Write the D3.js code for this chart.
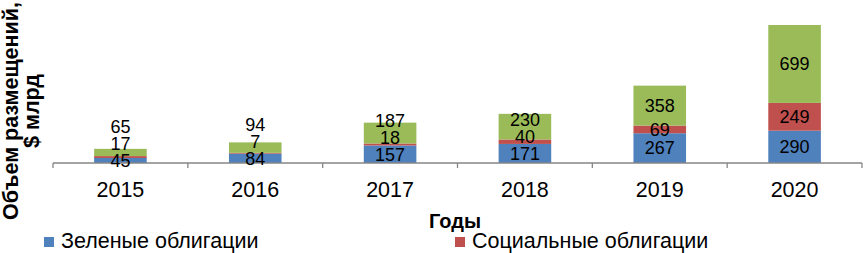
<!DOCTYPE html>
<html>
<head>
<meta charset="utf-8">
<script src="https://cdnjs.cloudflare.com/ajax/libs/d3/7.8.5/d3.min.js"></script>
<style>
  body { margin: 0; background: #fff; }
  text { font-family: "Liberation Sans", Arial, sans-serif; }
</style>
</head>
<body>
<div id="chart"></div>
<script>
const width = 863;
const height = 253;

// data
const years = ["2015", "2016", "2017", "2018", "2019", "2020"];
const green = [45, 84, 157, 171, 267, 290];      // Зеленые облигации
const social = [17, 7, 18, 40, 69, 249];         // Социальные облигации
const sustain = [65, 94, 187, 230, 358, 699];    // третий ряд (зелёный цвет)
const seriesNames = ["Зеленые облигации", "Социальные облигации", "Облигации устойчивого развития"];
const colors = ["#4F81BD", "#C0504D", "#9BBB59"];

const rows = years.map((y, i) => ({ year: y, a: green[i], b: social[i], c: sustain[i] }));
const keys = ["a", "b", "c"];

const svg = d3.select("#chart").append("svg")
    .attr("width", width)
    .attr("height", height);

const axisY = 163;
const xScale = d3.scaleBand()
    .domain(years)
    .range([53, 862])
    .padding(0);

const yScale = d3.scaleLinear()
    .domain([0, d3.max(rows, d => d.a + d.b + d.c)])
    .range([axisY, 25]);

const barW = xScale.bandwidth() * 0.39;

const series = d3.stack().keys(keys)(rows);

// bars
svg.append("g").selectAll("g")
    .data(series)
    .enter().append("g")
    .attr("fill", (d, i) => colors[i])
    .selectAll("rect")
    .data(d => d)
    .enter().append("rect")
    .attr("x", d => xScale(d.data.year) + (xScale.bandwidth() - barW) / 2)
    .attr("y", d => yScale(d[1]))
    .attr("width", barW)
    .attr("height", d => yScale(d[0]) - yScale(d[1]));

// x axis
const xAxis = d3.axisBottom(xScale).tickSize(0).tickFormat("");
const gx = svg.append("g")
    .attr("transform", `translate(0,${axisY})`)
    .call(xAxis);
gx.select(".domain").attr("stroke", "#868686").attr("stroke-width", 1.3)
    .attr("d", `M53,0H862`);
// tick marks on band boundaries
const bounds = years.map(y => xScale(y)).concat([xScale.range()[1]]);
gx.selectAll(".bound")
    .data(bounds)
    .enter().append("line")
    .attr("x1", d => d).attr("x2", d => d)
    .attr("y1", 0).attr("y2", 5)
    .attr("stroke", "#868686").attr("stroke-width", 1.3);

svg.append("g").selectAll("text")
    .data(years)
    .enter().append("text")
    .attr("x", d => xScale(d) + xScale.bandwidth() / 2)
    .attr("y", 197)
    .attr("text-anchor", "middle")
    .attr("font-size", 21.5)
    .attr("fill", "#000")
    .text(d => d);

// data labels: centered in segment, pushed up when they collide
const gap = 17;
const labels = [];
rows.forEach((r, i) => {
    let prev = null;
    series.forEach((s, k) => {
        const seg = s[i];
        let y = (yScale(seg[0]) + yScale(seg[1])) / 2;
        if (prev !== null) y = Math.min(y, prev - gap);
        prev = y;
        labels.push({ x: xScale(r.year) + xScale.bandwidth() / 2, y: y, v: seg[1] - seg[0] });
    });
});
svg.append("g").selectAll("text")
    .data(labels)
    .enter().append("text")
    .attr("x", d => d.x)
    .attr("y", d => d.y)
    .attr("dy", "0.35em")
    .attr("text-anchor", "middle")
    .attr("font-size", 18)
    .attr("fill", "#000")
    .text(d => d.v);

// axis titles
svg.append("text")
    .attr("x", 455)
    .attr("y", 228)
    .attr("text-anchor", "middle")
    .attr("font-size", 20)
    .attr("font-weight", "bold")
    .text("Годы");

const yt = svg.append("text")
    .attr("transform", "translate(0,111) rotate(-90)")
    .attr("text-anchor", "middle")
    .attr("font-size", 21.5)
    .attr("font-weight", "bold");
yt.append("tspan").attr("x", 0).attr("y", 18).text("Объем размещений,");
yt.append("tspan").attr("x", 0).attr("y", 39).text("$ млрд");

// legend (only first row visible)
const legendX = [44, 455];
const lg = svg.append("g").selectAll("g")
    .data(seriesNames.slice(0, 2))
    .enter().append("g")
    .attr("transform", (d, i) => `translate(${legendX[i]},0)`);
lg.append("rect")
    .attr("x", 0).attr("y", 237)
    .attr("width", 10).attr("height", 10)
    .attr("fill", (d, i) => colors[i]);
lg.append("text")
    .attr("x", 17)
    .attr("y", 248)
    .attr("font-size", 21.5)
    .text(d => d);
</script>
</body>
</html>
